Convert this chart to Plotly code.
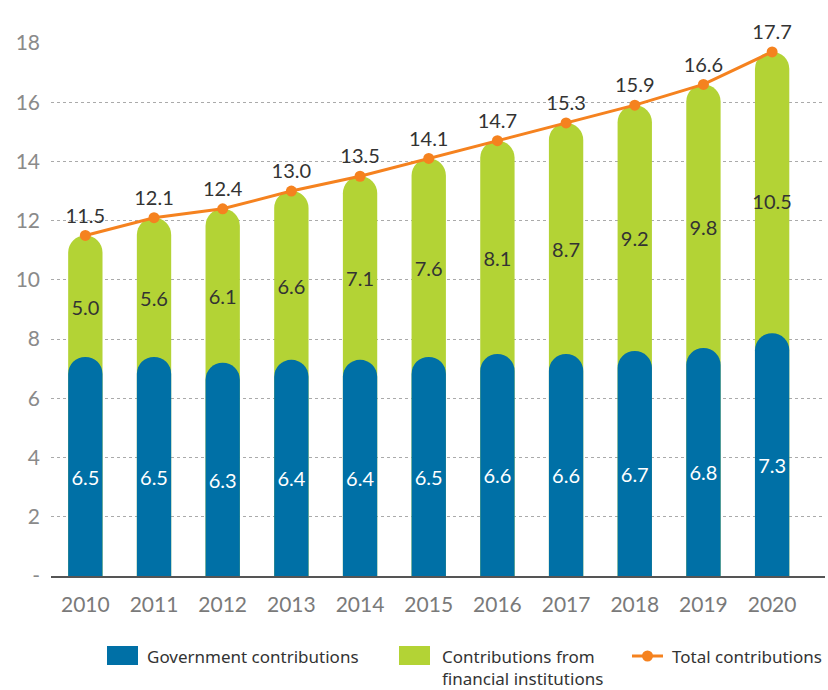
import plotly.graph_objects as go

years = ["2010", "2011", "2012", "2013", "2014", "2015", "2016", "2017", "2018", "2019", "2020"]
government = [6.5, 6.5, 6.3, 6.4, 6.4, 6.5, 6.6, 6.6, 6.7, 6.8, 7.3]
financial = [5.0, 5.6, 6.1, 6.6, 7.1, 7.6, 8.1, 8.7, 9.2, 9.8, 10.5]
total = [11.5, 12.1, 12.4, 13.0, 13.5, 14.1, 14.7, 15.3, 15.9, 16.6, 17.7]

BLUE = "#0070A6"
GREEN = "#B3D335"
ORANGE = "#F5821F"
NUM_FONT = "Lato, 'Open Sans', sans-serif"
LEG_FONT = "'Noto Sans', sans-serif"
CAP = 0.9  # the blue capsule's round end sits above the value in the original

# plot area in pixels, used only to place the hand-drawn legend
L, R, T, B = 51, 3, 43, 114
PW, PH = 828 - L - R, 690 - T - B


def px(x):
    return (x - L) / PW


def py(y):
    return (690 - B - y) / PH


fig = go.Figure()

# green capsule from 0 up to the total, blue capsule drawn over it on a twin axis
fig.add_trace(go.Bar(x=years, y=total, width=0.5, marker=dict(color=GREEN, cornerradius="50%", line_width=0),
                     name="Contributions from financial institutions", showlegend=False, hoverinfo="skip"))
fig.add_trace(go.Bar(x=years, y=[g + CAP for g in government], width=0.5, yaxis="y2",
                     marker=dict(color=BLUE, cornerradius="50%", line_width=0),
                     name="Government contributions", showlegend=False, hoverinfo="skip"))

# value labels
fig.add_trace(go.Scatter(x=years, y=[g / 2 for g in government], mode="text", yaxis="y2",
                         text=[f"{v:.1f}" for v in government],
                         textfont=dict(family=NUM_FONT, size=20, color="white"), showlegend=False, hoverinfo="skip"))
fig.add_trace(go.Scatter(x=years, y=[g + f / 2 for g, f in zip(government, financial)], mode="text", yaxis="y2",
                         text=[f"{v:.1f}" for v in financial],
                         textfont=dict(family=NUM_FONT, size=20, color="#333333"), showlegend=False, hoverinfo="skip"))

fig.add_trace(go.Scatter(x=years, y=total, mode="lines+markers+text", name="Total contributions", yaxis="y2",
                         line=dict(color=ORANGE, width=3), marker=dict(color=ORANGE, size=11),
                         text=[f"{v:.1f}" for v in total], textposition="top center",
                         textfont=dict(family=NUM_FONT, size=20, color="#333333"),
                         cliponaxis=False, showlegend=False))

fig.update_layout(
    width=828, height=690,
    margin=dict(l=L, r=R, t=T, b=B),
    barmode="overlay",
    plot_bgcolor="white", paper_bgcolor="white",
    xaxis=dict(type="category", range=[-0.5, 10.77], showgrid=False,
               showline=True, linecolor="#555555", linewidth=1.5,
               tickfont=dict(family=NUM_FONT, size=21, color="#7A7A7A"), ticklabelstandoff=9),
    yaxis=dict(range=[0, 18], tickvals=list(range(0, 19, 2)),
               ticktext=["-"] + [str(v) for v in range(2, 19, 2)],
               showgrid=True, gridcolor="#AAAAAA", griddash="3px,3px", gridwidth=1,
               zeroline=False, tickfont=dict(family=NUM_FONT, size=21, color="#8A8A8A"),
               ticklabelstandoff=10),
    yaxis2=dict(range=[0, 18], overlaying="y", visible=False),
)

# legend drawn by hand to match the wide swatches
fig.add_shape(type="rect", xref="paper", yref="paper", x0=px(107), x1=px(138),
              y0=py(665), y1=py(646), fillcolor=BLUE, line_width=0)
fig.add_shape(type="rect", xref="paper", yref="paper", x0=px(399), x1=px(430),
              y0=py(665), y1=py(646), fillcolor=GREEN, line_width=0)
fig.add_shape(type="line", xref="paper", yref="paper", x0=px(632), x1=px(663),
              y0=py(656), y1=py(656), line=dict(color=ORANGE, width=3))
fig.add_shape(type="circle", xref="paper", yref="paper", x0=px(642), x1=px(653),
              y0=py(661.5), y1=py(650.5), fillcolor=ORANGE, line_width=0)

for x, txt in [(145, "Government contributions"),
               (440, "Contributions from<br>financial institutions"),
               (670, "Total contributions")]:
    fig.add_annotation(xref="paper", yref="paper", x=px(x), y=py(643),
                       xanchor="left", yanchor="top", align="left", showarrow=False, text=txt,
                       font=dict(family=LEG_FONT, size=17, color="#333333"))

# the page's default body margin would push the fixed-size figure off the window
fig.write_html("out.html", config={"displayModeBar": False},
               post_script="document.body.style.margin='0px';")
